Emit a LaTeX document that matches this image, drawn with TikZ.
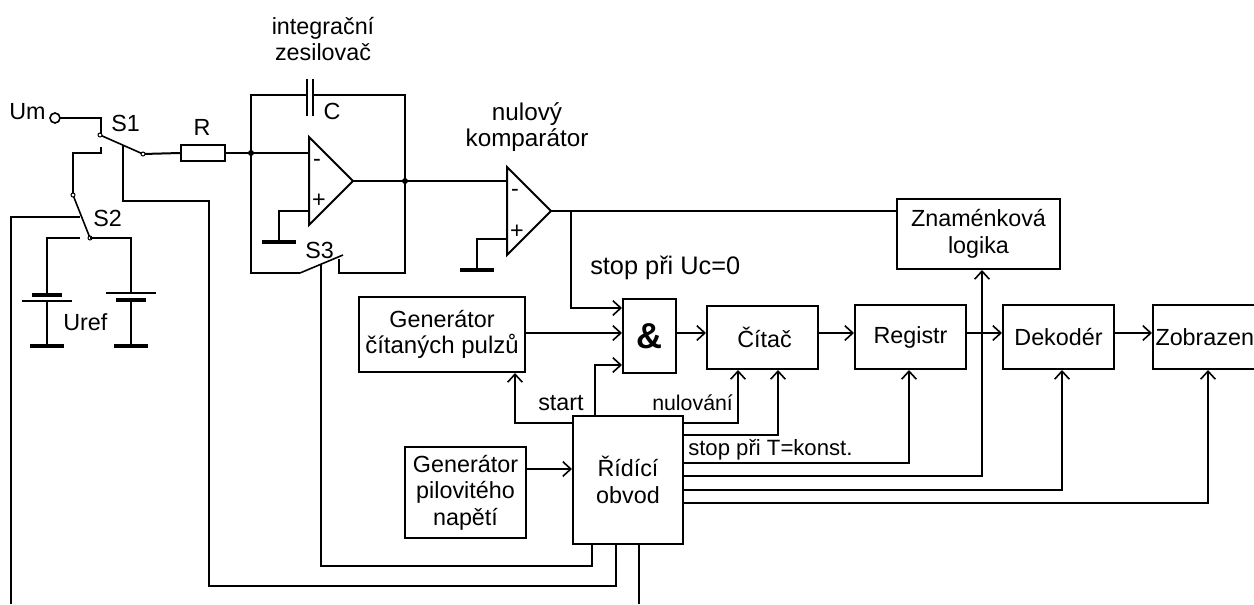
\documentclass[tikz,border=0pt]{standalone}
\usepackage{fontspec}
\setmainfont{Liberation Sans}
\usetikzlibrary{positioning,arrows.meta,calc}
\newdimen\px
\px=0.75pt
\tikzset{
  wire/.style={line width=2\px},
  sig/.style={line width=2\px,-{Straight Barb[length=6pt,width=11pt,line width=1.2pt]}},
  bar/.style={line width=4\px},
  blok/.style={draw,line width=2\px,inner sep=0pt,align=center,font=\lbl},
  lab/.style={inner sep=0pt,align=center,font=\lbl},
}
\newcommand{\lbl}{\fontsize{17.5}{20}\selectfont}
\begin{document}
\begin{tikzpicture}[x=0.75pt,y=-0.75pt]
  \path[use as bounding box,clip] (0,0) rectangle (1254,604);
  % blocks
  \node[blok,minimum width=163\px,minimum height=70\px] (znam) at (978.5,234) {Znaménková\\logika};
  \node[blok,minimum width=166\px,minimum height=75\px] (gencit) at (442,334.5) {Generátor\hspace{8pt}\\{\fontsize{18}{20}\selectfont čítaných pulzů}};
  \node[blok,minimum width=53\px,minimum height=74\px,font=\fontsize{27}{27}\selectfont\bfseries] (hand) at (649.5,336) {\&};
  \node[blok,minimum width=111\px,minimum height=63\px] (citac) at (762.5,337.5) {Čítač\hspace{-3pt}};
  \node[blok,minimum width=111\px,minimum height=64\px] (registr) at (910.5,337) {Registr};
  \node[blok,minimum width=111\px,minimum height=64\px] (dekoder) at (1058.5,337) {Dekodér};
  \node[blok,minimum width=118\px,minimum height=64\px,anchor=west,text width=113\px,align=left] (zobraz) at (1152,337) {Zobrazen};
  \node[blok,minimum width=110\px,minimum height=128\px] (ridici) at (628,480) {Řídící\\obvod};
  \node[blok,minimum width=121\px,minimum height=91\px] (genpil) at (465.5,492.5) {Generátor\\pilovitého\\napětí};
  \node[blok,minimum width=44\px,minimum height=16\px] (odpor) at (203,153) {};
  % chain of blocks
  \draw[sig] (hand.east |- 0,333) -- (citac.west |- 0,333);
  \foreach \a/\b in {citac/registr,registr/dekoder,dekoder/zobraz} {
    \draw[sig] (\a.east |- 0,333) -- (\b.west |- 0,333);
  }
  \draw[sig] (gencit.east |- 0,333) -- (hand.west |- 0,333);
  \draw[sig] (genpil.east |- 0,469) -- (ridici.west |- 0,469);
  % control lines out of the control block
  \draw[sig] (ridici.west |- 0,423) -| (515,0 |- gencit.south);
  \draw[sig] (595,0 |- ridici.north) |- (hand.west |- 0,365);
  \draw[sig] (ridici.east |- 0,423) -| (738,0 |- citac.south);
  \draw[sig] (ridici.east |- 0,435) -| (778,0 |- citac.south);
  \draw[sig] (ridici.east |- 0,463) -| (909,0 |- registr.south);
  \draw[sig] (ridici.east |- 0,476) -| (982,0 |- znam.south);
  \draw[sig] (ridici.east |- 0,490) -| (1062,0 |- dekoder.south);
  \draw[sig] (ridici.east |- 0,503) -| (1208,0 |- zobraz.south);
  % switch control lines
  \draw[wire] (592,0 |- ridici.south) |- (321,566) -- (321,265);
  \draw[wire] (616,0 |- ridici.south) |- (209,586) |- (123,201) -- (123,146);
  \draw[wire] (639,0 |- ridici.south) -- (639,604);
  \draw[wire] (80,217) -| (11,604);
  % input part
  \coordinate (um) at (55,118);
  \coordinate (s1a) at (100,135);
  \coordinate (s1b) at (143,154);
  \coordinate (s2a) at (73,195);
  \coordinate (s2b) at (90,238);
  \draw[wire] (um) ++(5,0) -| (101,135);
  \draw[wire] (101,147) |- (73,153) -- (s2a);
  \draw[wire] (s1b) -- (odpor.west);
  \draw[line width=1.6\px] (s1a) -- (s1b);
  \draw[line width=1.6\px] (s2a) -- (s2b);
  \draw[line width=1.6\px] (um) circle (5);
  \foreach \p in {s1a,s1b,s2a,s2b} {
    \draw[line width=1\px,fill=white] (\p) circle (2);
  }
  \draw[wire] (80,238) -- (47,238) -- (47,295);
  \draw[wire] (47,301) -- (47,346);
  \draw[wire] (s2b) -- (131,238) -- (131,293);
  \draw[wire] (131,300) -- (131,346);
  \draw[wire] (22,301) -- (72,301);
  \draw[bar] (32,295) -- (62,295);
  \draw[wire] (106,293) -- (156,293);
  \draw[bar] (116,300) -- (146,300);
  % amplifiers
  \draw[wire,fill=white] (309,137) -- (353,181) -- (309,225) -- cycle;
  \draw[wire,fill=white] (507,167) -- (551,211) -- (507,255) -- cycle;
  \draw[wire] (odpor.east) -- (309,153);
  \draw[wire] (251,153) |- (307,95);
  \draw[wire] (313,95) -| (405,273) -| (339,259);
  \draw[wire] (251,153) |- (300,273);
  \draw[line width=1.6\px] (300,273) -- (343,255);
  \draw[wire] (307,79) -- (307,116);
  \draw[wire] (313,79) -- (313,116);
  \draw[wire] (353,181) -- (507,181);
  \draw[wire] (309,211) -| (279,242);
  \draw[wire] (507,239) -| (477,270);
  % output of the comparator
  \draw[wire] (551,211) -- (znam.west |- 0,211);
  \draw[sig] (571,211) |- (hand.west |- 0,308);
  % grounds
  \foreach \xx/\yy in {47/346,131/346,279/242,477/270} {
    \draw[bar] (\xx-17,\yy) -- (\xx+17,\yy);
  }
  \foreach \xx/\yy in {251/153,405/181} {
    \fill (\xx,\yy) circle (3);
  }
  % texts
  \node[lab] (tint) at (323,39) {integrační\\zesilovač};
  \node[lab,font=\fontsize{18.2}{20}\selectfont] (tnul) at (527,127) {nulový\hspace{13pt}\\komparátor};
  \node[lab,anchor=west] (tum) at (9,112) {Um};
  \node[lab,anchor=west] (ts1) at (111,123) {S1};
  \node[lab] (tr) at (202,127) {R};
  \node[lab] (tc) at (332,111) {C};
  \node[lab,anchor=west] (ts2) at (93,218) {S2};
  \node[lab,anchor=west] (ts3) at (305,250) {S3};
  \node[lab,anchor=west] (turef) at (63,322) {Uref};
  \node[lab] (tm1) at (317,163) {-};
  \node[lab] (tp1) at (319,201) {+};
  \node[lab] (tm2) at (515,193) {-};
  \node[lab] (tp2) at (517,232) {+};
  \node[lab,anchor=west,font=\fontsize{19}{20}\selectfont] (tstop) at (590,268) {stop při Uc=0};
  \node[lab,anchor=west] (tstart) at (538,403) {start};
  \node[lab,anchor=west,font=\fontsize{16}{20}\selectfont] (tnulov) at (652,403) {nulování};
  \node[lab,anchor=west,font=\fontsize{16.6}{20}\selectfont] (tkonst) at (688,450) {stop při T=konst.};
\end{tikzpicture}
\end{document}
